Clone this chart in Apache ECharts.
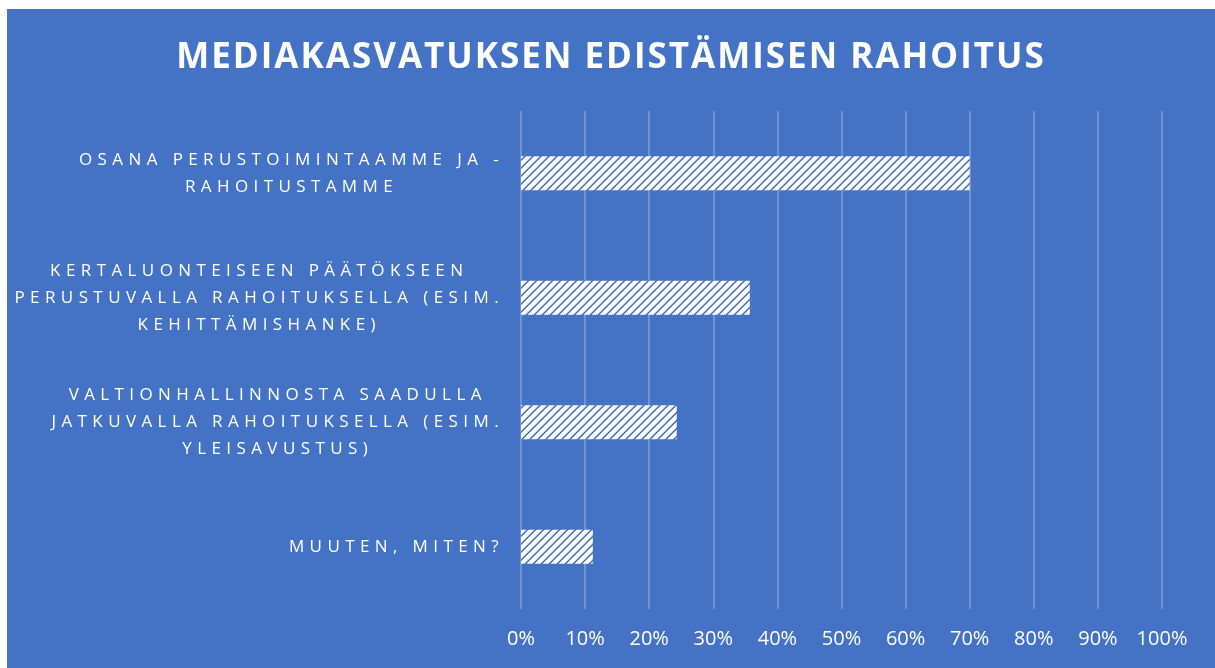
<!DOCTYPE html>
<html>
<head>
<meta charset="utf-8">
<script src="https://cdn.jsdelivr.net/npm/echarts@6/dist/echarts.min.js"></script>
<style>
  html, body { margin: 0; padding: 0; background: #ffffff; }
  #chart { position: absolute; left: 7px; top: 9px; width: 1208px; height: 659px; }
</style>
</head>
<body>
<div id="chart"></div>
<script>
// ---- data ----
const titleText = 'MEDIAKASVATUKSEN EDISTÄMISEN RAHOITUS';
const categories = [
  'OSANA PERUSTOIMINTAAMME JA -\nRAHOITUSTAMME',
  'KERTALUONTEISEEN PÄÄTÖKSEEN\nPERUSTUVALLA RAHOITUKSELLA (ESIM.\nKEHITTÄMISHANKE)',
  'VALTIONHALLINNOSTA SAADULLA\nJATKUVALLA RAHOITUKSELLA (ESIM.\nYLEISAVUSTUS)',
  'MUUTEN, MITEN?'
];
const values = [0.70, 0.357, 0.243, 0.112];
const tickLabels = ['0%', '10%', '20%', '30%', '40%', '50%', '60%', '70%', '80%', '90%', '100%'];

// ---- letter spacing support (applied per font size) ----
(function () {
  const proto = CanvasRenderingContext2D.prototype;
  function spacingFor(font) {
    const m = /(\d+(?:\.\d+)?)px/.exec(font || '');
    const size = m ? parseFloat(m[1]) : 0;
    if (size === 17) return '5.4px';
    if (size === 35) return '2px';
    return '0px';
  }
  const origFill = proto.fillText, origStroke = proto.strokeText, origMeasure = proto.measureText;
  proto.fillText = function () { this.letterSpacing = spacingFor(this.font); return origFill.apply(this, arguments); };
  proto.strokeText = function () { this.letterSpacing = spacingFor(this.font); return origStroke.apply(this, arguments); };
  proto.measureText = function () { this.letterSpacing = spacingFor(this.font); return origMeasure.apply(this, arguments); };
})();

// ---- hatch pattern ----
function makeHatch() {
  const c = document.createElement('canvas');
  c.width = 8; c.height = 8;
  const ctx = c.getContext('2d');
  ctx.fillStyle = '#ffffff';
  ctx.fillRect(0, 0, 8, 8);
  for (let y = 0; y < 8; y++) {
    for (let x = 0; x < 8; x++) {
      const k = (x + y) % 8;
      let col = null;
      if (k === 0) col = '#4472C4';
      else if (k === 1) col = '#6F90D0';
      else if (k === 7) col = '#B8C9EA';
      if (col) { ctx.fillStyle = col; ctx.fillRect(x, y, 1, 1); }
    }
  }
  return c;
}

const chart = echarts.init(document.getElementById('chart'), null, { renderer: 'canvas' });
const option = {
  backgroundColor: '#4472C4',
  animation: false,
  title: {
    text: titleText,
    left: 'center',
    top: 26,
    textStyle: { color: '#ffffff', fontFamily: 'Open Sans', fontWeight: 'bold', fontSize: 35 }
  },
  grid: { left: 514, right: 53, top: 102, bottom: 59 },
  xAxis: {
    type: 'value',
    min: 0, max: 1, interval: 0.1,
    axisLine: { show: false },
    axisTick: { show: false },
    splitLine: { show: true, lineStyle: { color: 'rgba(255,255,255,0.32)', width: 1.5 } },
    axisLabel: {
      color: '#ffffff', fontFamily: 'Open Sans', fontSize: 20, margin: 20,
      formatter: function (v) { return tickLabels[Math.round(v * 10)]; }
    }
  },
  yAxis: {
    type: 'category',
    inverse: true,
    data: categories,
    axisLine: { show: false },
    axisTick: { show: false },
    splitLine: { show: false },
    axisLabel: {
      margin: 17,
      align: 'right',
      formatter: function (v) { return v.split('\n').map(function (l) { return '{c|' + l + '}'; }).join('\n'); },
      rich: { c: { align: 'center', color: '#ffffff', fontFamily: 'Open Sans', fontSize: 17, lineHeight: 27 } }
    }
  },
  series: [{
    type: 'bar',
    data: values,
    barWidth: 34,
    itemStyle: { color: { image: makeHatch(), repeat: 'repeat' } }
  }]
};
chart.setOption(option);
</script>
</body>
</html>
